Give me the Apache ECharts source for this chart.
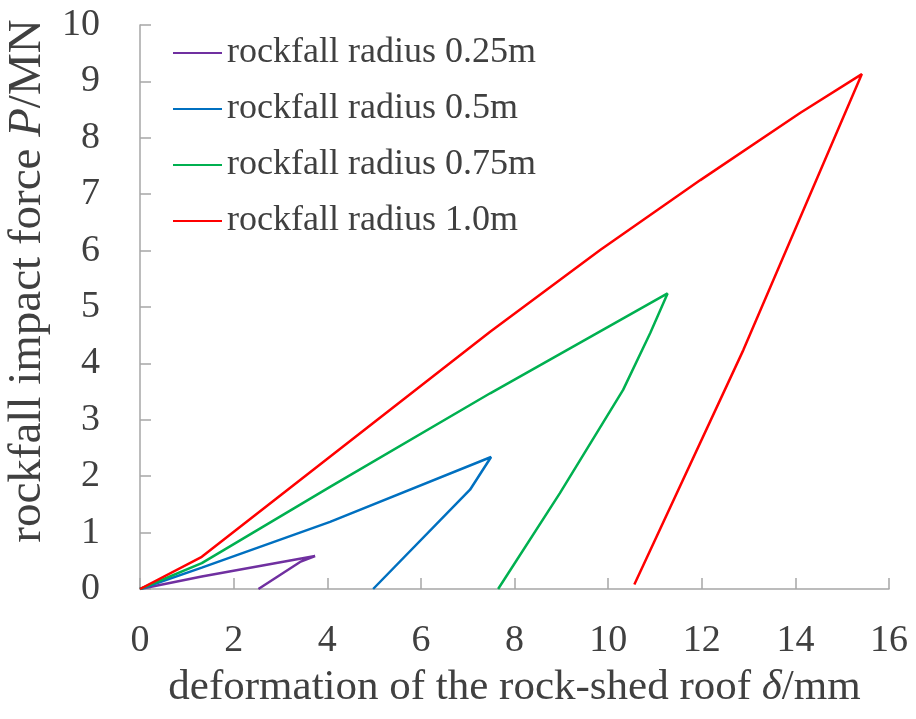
<!DOCTYPE html>
<html>
<head>
<meta charset="utf-8">
<script src="https://cdn.jsdelivr.net/npm/echarts@6/dist/echarts.min.js"></script>
<style>html,body{margin:0;padding:0;background:#fff}#c{width:916px;height:719px}</style>
</head>
<body>
<div id="c"></div>
<script>
const seriesNames = ['rockfall radius 0.25m', 'rockfall radius 0.5m', 'rockfall radius 0.75m', 'rockfall radius 1.0m'];
const xTicks = [0, 2, 4, 6, 8, 10, 12, 14, 16];
const yTicks = [0, 1, 2, 3, 4, 5, 6, 7, 8, 9, 10];

const r025X = [0, 1.32, 3.74, 3.42, 2.53];
const r025Y = [0, 0.22, 0.585, 0.48, 0];
const r05X = [0, 1.32, 4.06, 7.5, 7.05, 4.98];
const r05Y = [0, 0.38, 1.19, 2.34, 1.76, 0];
const r075X = [0, 1.32, 4.06, 7.48, 11.27, 10.9, 10.32, 8.97, 7.65];
const r075Y = [0, 0.46, 1.81, 3.47, 5.24, 4.54, 3.53, 1.70, 0];
const r10X = [0, 1.32, 7.48, 9.83, 11.97, 14.1, 15.42, 12.89, 10.56];
const r10Y = [0, 0.57, 4.56, 6.01, 7.25, 8.44, 9.13, 4.24, 0.08];

const colors = ['#7030A0', '#0070C0', '#00B050', '#FF0000'];
const xs = [r025X, r05X, r075X, r10X];
const ys = [r025Y, r05Y, r075Y, r10Y];

const font = '"Liberation Serif", "Times New Roman", serif';
const textColor = '#404040';
const axisColor = '#A6A6A6';

const chart = echarts.init(document.getElementById('c'), null, {renderer: 'canvas'});
chart.setOption({
  backgroundColor: '#fff',
  animation: false,
  grid: {left: 140, right: 27, top: 25, bottom: 130, containLabel: false, outerBoundsMode: 'none'},
  legend: {
    orient: 'vertical',
    left: 173,
    top: 35,
    padding: 0,
    itemWidth: 49,
    itemHeight: 12,
    itemGap: 20,
    icon: 'path://M0,5 L49,5 L49,7 L0,7 Z',
    textStyle: {fontFamily: font, fontSize: 36, color: textColor, lineHeight: 36},
    data: seriesNames
  },
  xAxis: {
    type: 'value',
    min: xTicks[0], max: xTicks[xTicks.length - 1], interval: 2,
    splitLine: {show: false},
    axisLine: {lineStyle: {color: axisColor, width: 1.5}},
    axisTick: {inside: true, length: 11, lineStyle: {color: axisColor, width: 1.5}},
    axisLabel: {fontFamily: font, fontSize: 38, color: textColor, margin: 33},
    name: '{n|deformation of the rock-shed roof }{i|δ}{n|/mm}',
    nameLocation: 'middle',
    nameGap: 77,
    nameTextStyle: {
      rich: {
        n: {fontFamily: font, fontSize: 43, color: textColor},
        i: {fontFamily: font, fontSize: 43, color: textColor, fontStyle: 'italic'}
      }
    }
  },
  yAxis: {
    type: 'value',
    min: yTicks[0], max: yTicks[yTicks.length - 1], interval: 1,
    splitLine: {show: false},
    axisLine: {show: true, lineStyle: {color: axisColor, width: 1.5}},
    axisTick: {show: true, inside: true, length: 11, lineStyle: {color: axisColor, width: 1.5}},
    axisLabel: {fontFamily: font, fontSize: 38, color: textColor, margin: 40},
    name: '{n|rockfall impact force }{i|P}{n|/MN}',
    nameLocation: 'middle',
    nameRotate: 90,
    nameGap: 86,
    nameTextStyle: {
      padding: [0, 0, 0, 52],
      rich: {
        n: {fontFamily: font, fontSize: 47, color: textColor},
        i: {fontFamily: font, fontSize: 47, color: textColor, fontStyle: 'italic'}
      }
    }
  },
  series: seriesNames.map((name, k) => ({
    name: name,
    type: 'line',
    symbol: 'none',
    color: colors[k],
    lineStyle: {width: 2.5, color: colors[k]},
    data: xs[k].map((x, i) => [x, ys[k][i]])
  }))
});
</script>
</body>
</html>
